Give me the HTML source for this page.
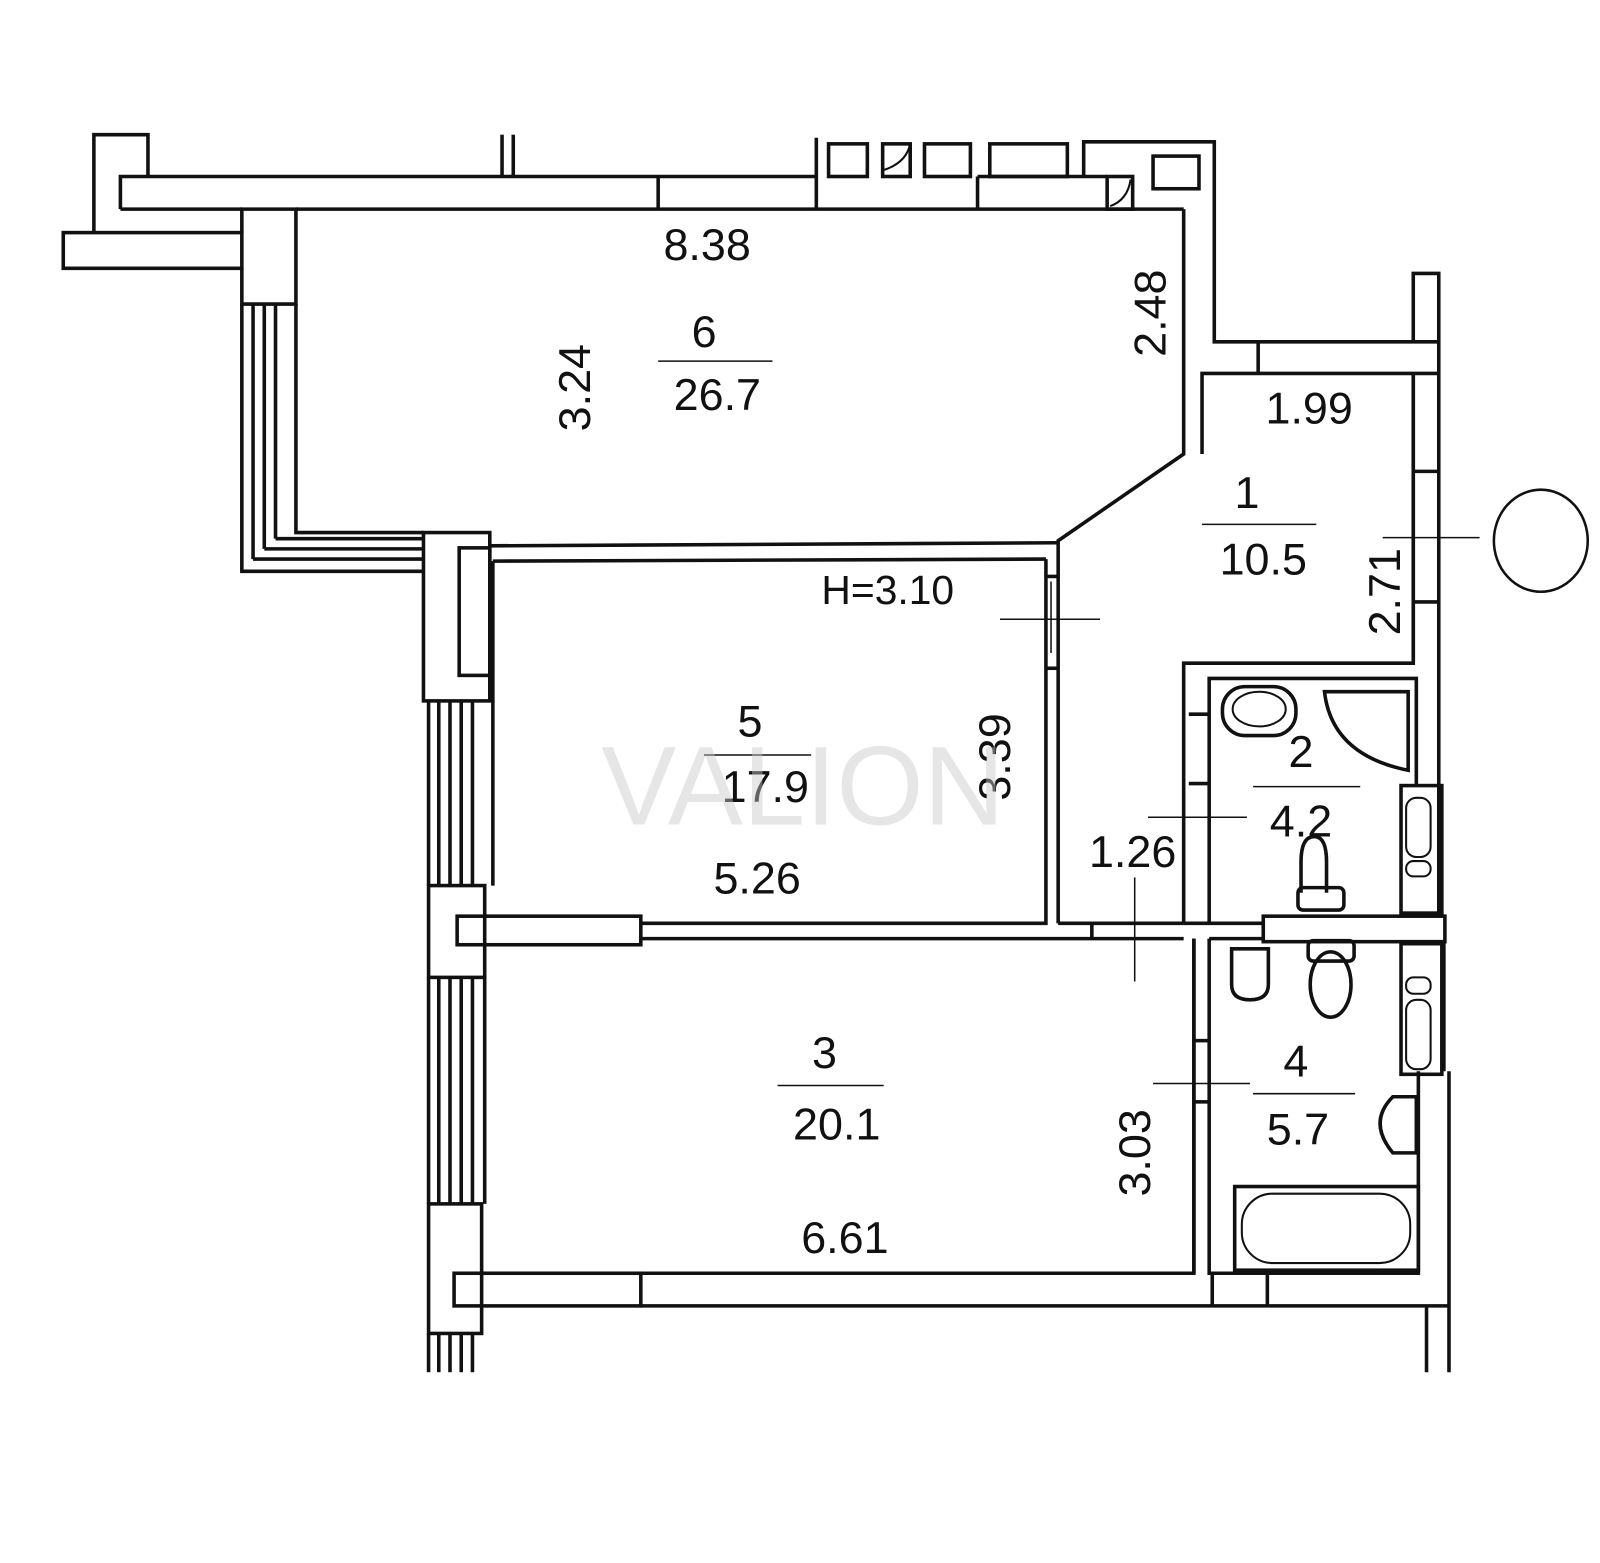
<!DOCTYPE html>
<html><head><meta charset="utf-8"><style>
html,body{margin:0;padding:0;background:#fff;}
svg{display:block;}
text{font-family:"Liberation Sans",sans-serif;fill:#111;}
</style></head><body>
<svg width="1600" height="1563" viewBox="0 0 1568 1532" preserveAspectRatio="none" xmlns="http://www.w3.org/2000/svg">
<g fill="none" stroke="#111" stroke-width="3.5" stroke-linejoin="miter">
<polyline points="92,173 92,132 145,132 145,173"/>
<rect x="62" y="228" width="175" height="35"/>
<polyline points="237,228 237,205 290,205 290,298 237,298 237,263"/>
<line x1="92" y1="173" x2="92" y2="228"/>
<polyline points="118,205 118,173 800,173"/>
<line x1="118" y1="205" x2="237" y2="205"/>
<line x1="290" y1="205" x2="1160" y2="205"/>
<line x1="645" y1="173" x2="645" y2="205"/>
<line x1="800" y1="135" x2="800" y2="205"/>
<line x1="492" y1="132" x2="492" y2="173"/>
<line x1="503" y1="132" x2="503" y2="173"/>
<rect x="812" y="141" width="38" height="32"/>
<rect x="865" y="141" width="27" height="32"/>
<path d="M865 167 Q888 160 892 141" stroke-width="2"/>
<rect x="906" y="141" width="45" height="32"/>
<rect x="970" y="141" width="76" height="32"/>
<polyline points="958,173 958,205"/>
<line x1="958" y1="173" x2="1085" y2="173"/>
<rect x="1085" y="173" width="25" height="32"/>
<path d="M1088 202 Q1105 196 1108 176" stroke-width="2"/>
<rect x="1130" y="153" width="45" height="32"/>
<polyline points="1062,173 1062,139 1190,139 1190,335 1410,335"/>
<line x1="1233" y1="335" x2="1233" y2="366"/>
<polyline points="1160,205 1160,445 1037,530 1037,905"/>
<polyline points="1410,366 1178,366 1178,445"/>
<line x1="248" y1="298" x2="248" y2="548"/>
<line x1="259" y1="298" x2="259" y2="538"/>
<line x1="270" y1="298" x2="270" y2="528"/>
<polyline points="237,298 237,560 415,560"/>
<polyline points="290,298 290,522 415,522"/>
<line x1="248" y1="548" x2="415" y2="548"/>
<line x1="259" y1="538" x2="415" y2="538"/>
<line x1="270" y1="528" x2="415" y2="528"/>
<line x1="480" y1="535" x2="1037" y2="532"/>
<line x1="483" y1="550" x2="1025" y2="548"/>
<rect x="415" y="522" width="65" height="165"/>
<rect x="450" y="537" width="30" height="125"/>
<line x1="420" y1="687" x2="420" y2="868"/>
<line x1="430" y1="687" x2="430" y2="868"/>
<line x1="441" y1="687" x2="441" y2="868"/>
<line x1="452" y1="687" x2="452" y2="868"/>
<line x1="463" y1="687" x2="463" y2="868"/>
<rect x="420" y="868" width="55" height="90"/>
<rect x="448" y="898" width="180" height="28"/>
<line x1="420" y1="958" x2="420" y2="1180"/>
<line x1="430" y1="958" x2="430" y2="1180"/>
<line x1="441" y1="958" x2="441" y2="1180"/>
<line x1="452" y1="958" x2="452" y2="1180"/>
<line x1="463" y1="958" x2="463" y2="1180"/>
<rect x="420" y="1180" width="52" height="127"/>
<line x1="420" y1="1307" x2="420" y2="1345"/>
<line x1="430" y1="1307" x2="430" y2="1345"/>
<line x1="441" y1="1307" x2="441" y2="1345"/>
<line x1="452" y1="1307" x2="452" y2="1345"/>
<line x1="463" y1="1307" x2="463" y2="1345"/>
<polyline points="483,550 483,868"/>
<polyline points="1025,548 1025,905 628,905"/>
<line x1="628" y1="920" x2="1160" y2="920"/>
<line x1="1037" y1="905" x2="1160" y2="905"/>
<line x1="1070" y1="905" x2="1070" y2="920"/>
<line x1="1025" y1="565" x2="1037" y2="565"/>
<line x1="1025" y1="655" x2="1037" y2="655"/>
<line x1="475" y1="958" x2="475" y2="1180"/>
<polyline points="1170,920 1170,1248 628,1248"/>
<rect x="445" y="1248" width="183" height="32"/>
<line x1="628" y1="1280" x2="1420" y2="1280"/>
<polyline points="1160,905 1160,650 1385,650 1385,366"/>
<polyline points="1185,905 1185,665 1388,665 1388,770"/>
<line x1="1165" y1="700" x2="1185" y2="700"/>
<line x1="1165" y1="768" x2="1185" y2="768"/>
<line x1="1160" y1="905" x2="1238" y2="905"/>
<line x1="1185" y1="920" x2="1238" y2="920"/>
<rect x="1238" y="898" width="178" height="25"/>
<polyline points="1170,920 1170,1248"/>
<polyline points="1185,920 1185,1248 1390,1248 1390,1050"/>
<line x1="1170" y1="1020" x2="1185" y2="1020"/>
<line x1="1170" y1="1080" x2="1185" y2="1080"/>
<line x1="1188" y1="1248" x2="1188" y2="1280"/>
<line x1="1242" y1="1248" x2="1242" y2="1280"/>
<polyline points="1385,335 1385,268 1410,268 1410,898"/>
<line x1="1385" y1="366" x2="1385" y2="650"/>
<line x1="1385" y1="462" x2="1410" y2="462"/>
<line x1="1385" y1="590" x2="1410" y2="590"/>
<line x1="1415" y1="923" x2="1415" y2="1050"/>
<line x1="1420" y1="1050" x2="1420" y2="1345"/>
<line x1="1398" y1="1280" x2="1398" y2="1345"/>
<rect x="1373" y="770" width="40" height="125"/>
<rect x="1373" y="925" width="40" height="128"/>
<rect x="1198" y="673" width="72" height="48" rx="22"/>
<ellipse cx="1234" cy="695" rx="26" ry="17" stroke-width="2"/>
<path d="M1298 678 L1380 678 L1380 755 Q1305 740 1298 678 Z"/>
<rect x="1378" y="782" width="24" height="58" rx="10" stroke-width="2"/>
<rect x="1378" y="844" width="24" height="15" rx="7" stroke-width="2"/>
<path d="M1300 875 L1300 845 Q1300 820 1288 820 Q1275 820 1275 845 L1275 875"/>
<rect x="1272" y="870" width="45" height="22" rx="5"/>
<rect x="1282" y="922" width="45" height="20" rx="5"/>
<ellipse cx="1304" cy="965" rx="20" ry="32"/>
<path d="M1207 930 L1243 930 L1243 965 Q1243 980 1225 980 Q1207 980 1207 965 Z"/>
<rect x="1378" y="958" width="24" height="16" rx="7" stroke-width="2"/>
<rect x="1378" y="980" width="24" height="68" rx="10" stroke-width="2"/>
<path d="M1388 1075 L1388 1130 L1365 1130 Q1340 1100 1365 1075 Z"/>
<rect x="1210" y="1163" width="180" height="82"/>
<rect x="1217" y="1170" width="165" height="68" rx="30" stroke-width="2"/>
<line x1="980" y1="607" x2="1078" y2="607" stroke-width="1.5"/>
<line x1="1030" y1="570" x2="1030" y2="640" stroke-width="1.5"/>
<line x1="1112" y1="860" x2="1112" y2="962" stroke-width="1.5"/>
<line x1="1125" y1="801" x2="1222" y2="801" stroke-width="1.5"/>
<line x1="1130" y1="1062" x2="1225" y2="1062" stroke-width="1.5"/>
<line x1="1355" y1="527" x2="1450" y2="527" stroke-width="1.5"/>
<ellipse cx="1510" cy="530" rx="46" ry="50" stroke-width="2.5"/>
<line x1="645" y1="354" x2="757" y2="354" stroke-width="1.5"/>
<line x1="1178" y1="514" x2="1290" y2="514" stroke-width="1.5"/>
<line x1="690" y1="740" x2="795" y2="740" stroke-width="1.5"/>
<line x1="1228" y1="771" x2="1333" y2="771" stroke-width="1.5"/>
<line x1="762" y1="1064" x2="866" y2="1064" stroke-width="1.5"/>
<line x1="1228" y1="1072" x2="1328" y2="1072" stroke-width="1.5"/>
</g>
<g font-size="44" text-anchor="middle">
<text x="693" y="255">8.38</text>
<text x="690" y="340">6</text>
<text x="703" y="402">26.7</text>
<text x="1283" y="415">1.99</text>
<text x="1222" y="498">1</text>
<text x="1238" y="563">10.5</text>
<text x="870" y="592" font-size="40">H=3.10</text>
<text x="735" y="722">5</text>
<text x="750" y="786">17.9</text>
<text x="742" y="876">5.26</text>
<text x="1275" y="752">2</text>
<text x="1275" y="820">4.2</text>
<text x="1110" y="850">1.26</text>
<text x="808" y="1047">3</text>
<text x="820" y="1117">20.1</text>
<text x="1270" y="1055">4</text>
<text x="1272" y="1122">5.7</text>
<text x="828" y="1228">6.61</text>
<text transform="translate(578,380) rotate(-90)">3.24</text>
<text transform="translate(1142,307) rotate(-90)">2.48</text>
<text transform="translate(1372,580) rotate(-90)">2.71</text>
<text transform="translate(990,742) rotate(-90)">3.39</text>
<text transform="translate(1127,1130) rotate(-90)">3.03</text>
</g>
<text x="787" y="808" font-size="110" text-anchor="middle" style="fill:rgba(200,200,200,0.45)">VALION</text>
</svg>
</body></html>
